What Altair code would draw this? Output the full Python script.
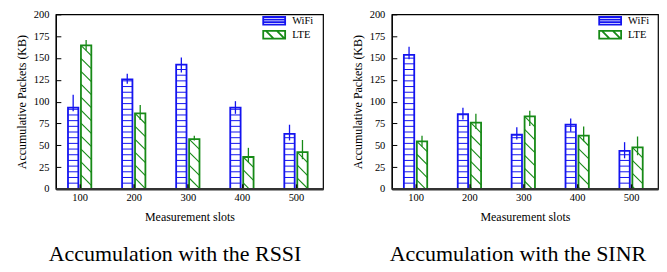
import altair as alt
import pandas as pd

# ---------------- data ----------------
slots = [100, 200, 300, 400, 500]
series_names = ["WiFi", "LTE"]
series_colors = ["#1414f0", "#178a17"]

rssi_wifi = [93, 125.5, 142.5, 93, 63]
rssi_wifi_lo = [89, 120.5, 133.5, 86, 55.5]
rssi_wifi_hi = [108, 132, 150.5, 100.5, 73.5]
rssi_lte = [164.5, 86.5, 57, 36.5, 42]
rssi_lte_lo = [158.5, 79, 55.5, 30.5, 34]
rssi_lte_hi = [170.5, 96, 61, 47, 56]

sinr_wifi = [153.5, 85.5, 62, 73.5, 43.5]
sinr_wifi_lo = [148.5, 79.5, 56.5, 65.5, 35]
sinr_wifi_hi = [163, 93, 70.5, 80.5, 53.5]
sinr_lte = [54.5, 76, 83, 61, 47.5]
sinr_lte_lo = [48.5, 68.5, 72, 54.5, 38.5]
sinr_lte_hi = [61, 86, 89.5, 71.5, 60]

captions = ["Accumulation with the RSSI", "Accumulation with the SINR"]
x_title = "Measurement slots"
y_title = "Accumulative Packets (KB)"
y_ticks = [0, 25, 50, 75, 100, 125, 150, 175, 200]

# ---------------- style / geometry ----------------
FONT = "Liberation Serif"
PANEL_W = [268, 267]
PLOT_H = 175
X_DOMAIN = [56, 550]
Y_DOMAIN = [0, 200]
BAR_HALF_PX = 5.2
BAR_SHIFT_PX = 6.5
STRIPE_PX = 5.7
DIAG_PX = 13.0
CAPTION_DX = [-14.5, -7]

# legend symbols: drawn at size 121 (scale 5.5 px per unit) -> 22 x 7.7 px boxes
WIFI_SYMBOL = "M-2,-0.7H2V0.7H-2Z M-2,-0.233H2 M-2,0.233H2"
LTE_SYMBOL = "M-2,-0.7H2V0.7H-2Z M-1.5,-0.7L-0.1,0.7 M0.5,-0.7L1.9,0.7"


def build_tables(values, width):
    ux = (X_DOMAIN[1] - X_DOMAIN[0]) / width
    uy = (Y_DOMAIN[1] - Y_DOMAIN[0]) / PLOT_H
    bars, hlines, dlines = [], [], []
    for si, name in enumerate(series_names):
        mean, lo, hi = values[name]
        sign = -1 if si == 0 else 1
        color = series_colors[si]
        for k, slot in enumerate(slots):
            xc = slot + sign * BAR_SHIFT_PX * ux
            xl = xc - BAR_HALF_PX * ux
            xr = xc + BAR_HALF_PX * ux
            v = mean[k]
            bars.append(dict(slot=slot, series=name, color=color, value=v,
                             lo=lo[k], hi=hi[k], xc=xc, xl=xl, xr=xr))
            if si == 0:
                step = STRIPE_PX * uy
                j = 1
                while j * step < v - 1.0 * uy:
                    hlines.append(dict(color=color, xl=xl, xr=xr, y=j * step))
                    j += 1
            else:
                w = 2 * BAR_HALF_PX
                hb = v / uy
                c = hb
                while c > 0:
                    xs = max(0.0, c - hb)
                    xe = min(w, c)
                    if xe - xs > 0.6:
                        dlines.append(dict(color=color,
                                           x1=xl + xs * ux, y1=(c - xs) * uy,
                                           x2=xl + xe * ux, y2=(c - xe) * uy))
                    c -= DIAG_PX
    return pd.DataFrame(bars), pd.DataFrame(hlines), pd.DataFrame(dlines)


def panel(values, width, caption, dx):
    bars, hlines, dlines = build_tables(values, width)
    xs = alt.Scale(domain=X_DOMAIN, nice=False, zero=False)
    ys = alt.Scale(domain=Y_DOMAIN, nice=False)
    xaxis = alt.Axis(values=slots, format="d", grid=False,
                     tickSize=alt.ExprRef(expr="-5"), tickColor="#111", tickWidth=1.5,
                     labelPadding=8.5, labelFont=FONT, labelFontSize=10.5, labelColor="black",
                     titleFont=FONT, titleFontSize=12, titleFontWeight="normal",
                     titleColor="black", titlePadding=9,
                     domainColor="#333", domainWidth=2.5, zindex=1)
    yaxis = alt.Axis(values=y_ticks, grid=False,
                     tickSize=alt.ExprRef(expr="-5"), tickColor="black", tickWidth=1,
                     labelPadding=12, labelFont=FONT, labelFontSize=10.5, labelColor="black",
                     titleFont=FONT, titleFontSize=12, titleFontWeight="normal",
                     titleColor="black", titlePadding=5,
                     domainColor="black", domainWidth=1.2)

    def X(f):
        return alt.X(f, type="quantitative", scale=xs, axis=xaxis, title=x_title)

    def Y(f):
        return alt.Y(f, type="quantitative", scale=ys, axis=yaxis, title=y_title)

    col = alt.Stroke("color:N", scale=None)

    rect = alt.Chart(bars).mark_rect(fill="white", strokeWidth=1.8).encode(
        x=X("xl"), x2="xr", y=Y("value"), y2=alt.datum(0), stroke=col)
    hl = alt.Chart(hlines).mark_rule(strokeWidth=1).encode(
        x=X("xl"), x2="xr", y=Y("y"), stroke=col)
    dl = alt.Chart(dlines).mark_rule(strokeWidth=1.1).encode(
        x=X("x1"), x2="x2", y=Y("y1"), y2="y2", stroke=col)
    err = alt.Chart(bars).mark_rule(strokeWidth=1.3).encode(
        x=X("xc"), y=Y("lo"), y2="hi", stroke=col)

    leg = alt.Legend(title=None, orient="none", legendX=212.5, legendY=0,
                     padding=0, labelFont=FONT, labelFontSize=10.5, labelColor="black",
                     labelOffset=11.5, symbolSize=121, symbolStrokeWidth=1.8,
                     rowPadding=alt.ExprRef(expr="-4"), symbolFillColor="white")
    legend_layer = alt.Chart(bars).transform_filter("false").mark_point(
        filled=False, strokeWidth=1.8, size=121, opacity=1).encode(
        x=X("xc"), y=Y("value"),
        shape=alt.Shape("series:N", scale=alt.Scale(domain=series_names,
                                                     range=[WIFI_SYMBOL, LTE_SYMBOL]),
                        legend=leg),
        stroke=alt.Stroke("series:N", scale=alt.Scale(domain=series_names,
                                                       range=series_colors),
                          legend=leg))

    return alt.layer(rect, hl, dl, err, legend_layer).properties(
        width=width, height=PLOT_H,
        title=alt.Title(caption, orient="bottom", anchor="middle", frame="group",
                        font=FONT, fontSize=22, fontWeight="normal", color="black",
                        offset=21, dx=dx))


left = panel({"WiFi": (rssi_wifi, rssi_wifi_lo, rssi_wifi_hi),
              "LTE": (rssi_lte, rssi_lte_lo, rssi_lte_hi)},
             PANEL_W[0], captions[0], CAPTION_DX[0])
right = panel({"WiFi": (sinr_wifi, sinr_wifi_lo, sinr_wifi_hi),
               "LTE": (sinr_lte, sinr_lte_lo, sinr_lte_hi)},
              PANEL_W[1], captions[1], CAPTION_DX[1])

chart = alt.hconcat(left, right, spacing=26).resolve_scale(
    shape="independent", stroke="independent"
).resolve_legend(
    shape="independent", stroke="independent"
).configure(
    padding={"left": 6, "top": 0, "right": 0, "bottom": 0},
    background="white",
).configure_view(stroke="black", strokeWidth=1.2)

chart.save("out.html", embed_options={"renderer": "svg", "actions": False})
